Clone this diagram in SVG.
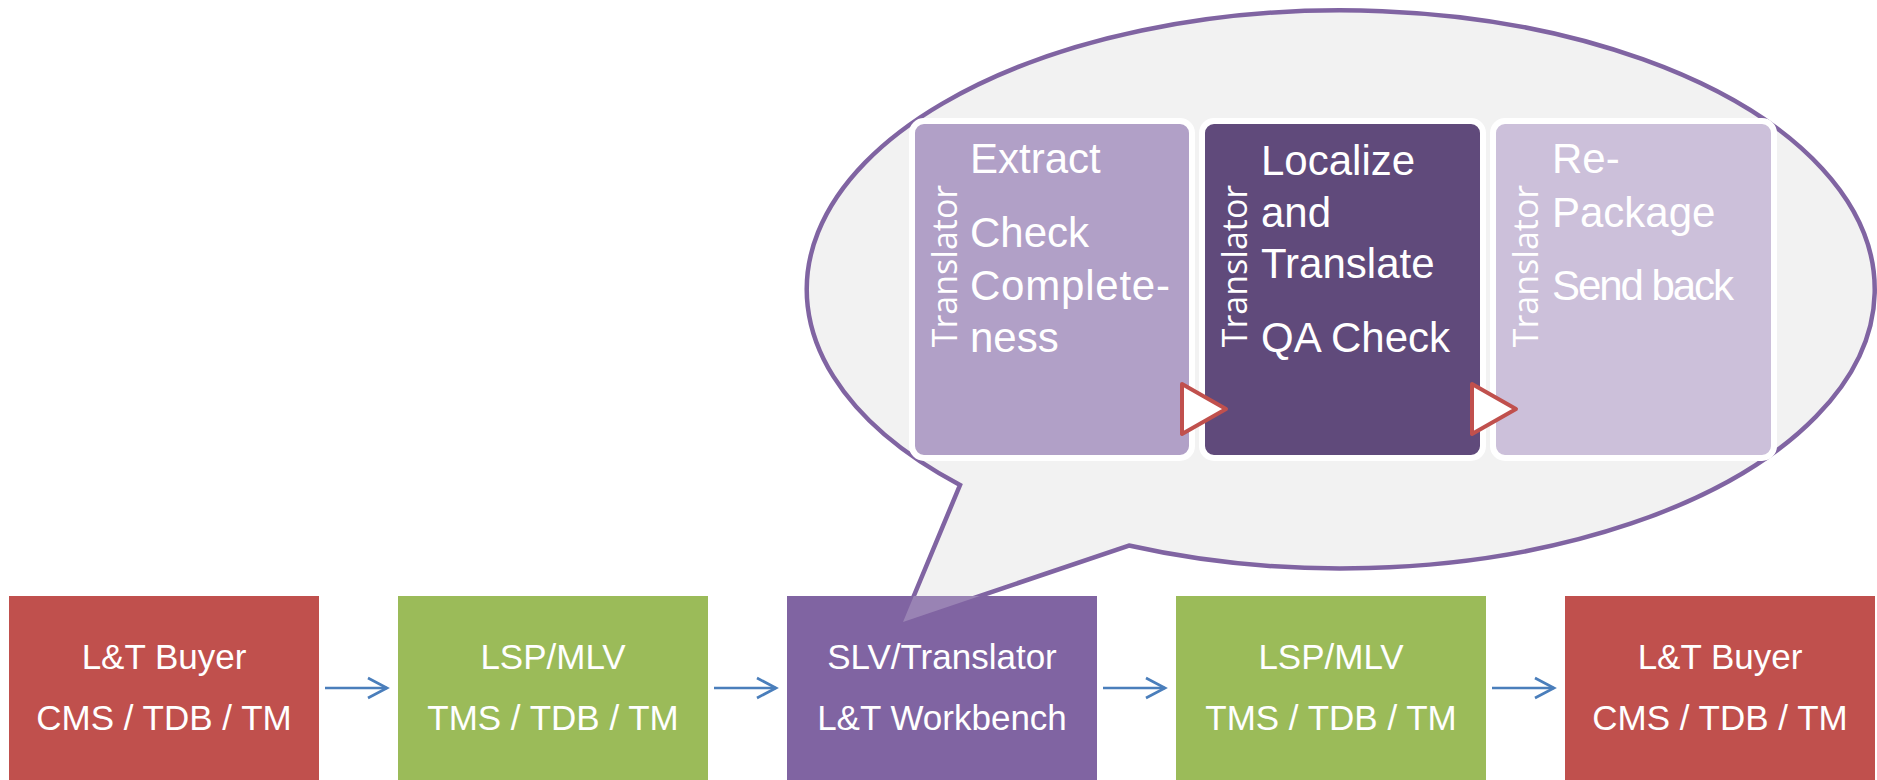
<svg xmlns="http://www.w3.org/2000/svg" width="1877" height="780" viewBox="0 0 1877 780">
<defs>
<style>
.box{stroke:none}
.bt{font-family:"Liberation Sans",Arial,sans-serif;font-size:35px;fill:#fff;text-anchor:middle}
.it{font-family:"Liberation Sans",Arial,sans-serif;font-size:42px;fill:#fff}
.vt{font-family:"Open Sans","DejaVu Sans",sans-serif;font-size:34px;fill:#fff;text-anchor:middle}
.inner{stroke:#fff;stroke-width:6}
.conn{stroke:#4a7ebb;stroke-width:2.7;fill:none}
.tri{fill:#fff;stroke:#c0504d;stroke-width:4;stroke-linejoin:round}
</style>
<marker id="chev" markerUnits="userSpaceOnUse" viewBox="0 0 24 24" markerWidth="24" markerHeight="24" refX="21" refY="12" orient="auto">
<path d="M2,2 L21,12 L2,22" fill="none" stroke="#4a7ebb" stroke-width="2.7"/>
</marker>
</defs>
<rect width="1877" height="780" fill="#fff"/>

<g id="callout">
<path d="M 960 485 A 534 279 0 1 1 1129 545.5 L 903 622 Z" fill="#f2f2f2" stroke="#8064a2" stroke-width="4.5" stroke-linejoin="miter"/>
</g>

<g id="step-extract">
<rect class="inner" x="912" y="121" width="280" height="337" rx="12" fill="#b1a0c7"/>
<text class="vt" transform="translate(957,266) rotate(-90)">Translator</text>
<text class="it" x="970" y="173">Extract</text>
<text class="it" x="970" y="247">Check</text>
<text class="it" x="970" y="300" textLength="200">Complete-</text>
<text class="it" x="970" y="352">ness</text>
</g>

<g id="step-localize">
<rect class="inner" x="1202" y="121" width="281" height="337" rx="12" fill="#604a7b"/>
<text class="vt" transform="translate(1247,266) rotate(-90)">Translator</text>
<text class="it" x="1261" y="175">Localize</text>
<text class="it" x="1261" y="227">and</text>
<text class="it" x="1261" y="278">Translate</text>
<text class="it" x="1261" y="352">QA Check</text>
</g>

<g id="step-repackage">
<rect class="inner" x="1493" y="121" width="281" height="337" rx="12" fill="#ccc0da"/>
<text class="vt" transform="translate(1538,266) rotate(-90)">Translator</text>
<text class="it" x="1552" y="173">Re-</text>
<text class="it" x="1552" y="227">Package</text>
<text class="it" x="1552" y="300" textLength="182">Send back</text>
</g>

<g id="inner-arrows">
<polygon class="tri" points="1182,384 1226,409 1182,434"/>
<polygon class="tri" points="1472,384 1516,409 1472,434"/>
</g>

<g id="node-buyer1">
<rect class="box" x="9" y="596" width="310" height="186" fill="#c0504d"/>
<text class="bt" x="164" y="669">L&amp;T Buyer</text>
<text class="bt" x="164" y="730">CMS / TDB / TM</text>
</g>
<g id="node-lsp1">
<rect class="box" x="398" y="596" width="310" height="186" fill="#9bbb59"/>
<text class="bt" x="553" y="669">LSP/MLV</text>
<text class="bt" x="553" y="730">TMS / TDB / TM</text>
</g>
<g id="node-slv">
<rect class="box" x="787" y="596" width="310" height="186" fill="#8064a2"/>
<polygon points="913.8,596 903,622 979.8,596" fill="#fff" fill-opacity="0.2"/>
<text class="bt" x="942" y="669">SLV/Translator</text>
<text class="bt" x="942" y="730">L&amp;T Workbench</text>
</g>
<g id="node-lsp2">
<rect class="box" x="1176" y="596" width="310" height="186" fill="#9bbb59"/>
<text class="bt" x="1331" y="669">LSP/MLV</text>
<text class="bt" x="1331" y="730">TMS / TDB / TM</text>
</g>
<g id="node-buyer2">
<rect class="box" x="1565" y="596" width="310" height="186" fill="#c0504d"/>
<text class="bt" x="1720" y="669">L&amp;T Buyer</text>
<text class="bt" x="1720" y="730">CMS / TDB / TM</text>
</g>

<g id="connectors">
<line class="conn" x1="325" y1="688" x2="387" y2="688" marker-end="url(#chev)"/>
<line class="conn" x1="714" y1="688" x2="776" y2="688" marker-end="url(#chev)"/>
<line class="conn" x1="1103" y1="688" x2="1165" y2="688" marker-end="url(#chev)"/>
<line class="conn" x1="1492" y1="688" x2="1554" y2="688" marker-end="url(#chev)"/>
</g>
</svg>
